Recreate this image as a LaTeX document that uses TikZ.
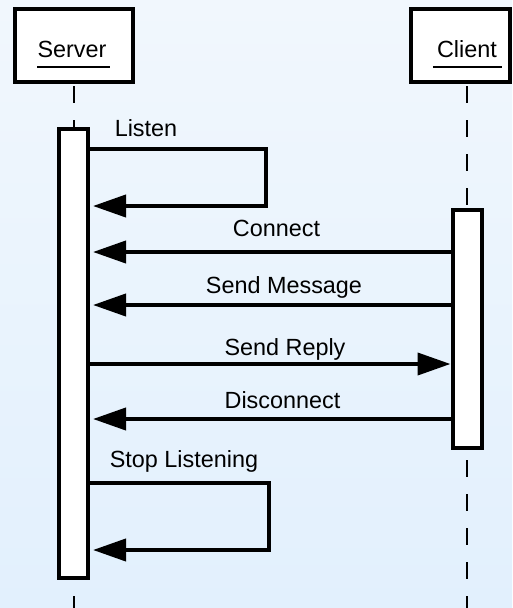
\documentclass[tikz,border=0pt]{standalone}
\usepackage{fontspec}
\setmainfont{Liberation Sans}
\usetikzlibrary{arrows.meta,calc}
\definecolor{bgtop}{RGB}{241,247,253}
\definecolor{bgbot}{RGB}{226,240,253}
\tikzset{
  headbox/.style={draw=black, line width=4pt, fill=white, minimum height=73pt, inner sep=0pt},
  actbox/.style={draw=black, line width=4pt, fill=white, minimum width=29pt, inner sep=0pt},
  lifeline/.style={draw=black, line width=2pt, dash pattern=on 17pt off 17pt},
  msg/.style={draw=black, line width=4pt, -{Triangle[length=33pt,width=22pt]}},
  lbl/.style={anchor=base, inner sep=0pt, font=\fontsize{23.4pt}{28pt}\selectfont},
  uline/.style={draw=black, line width=2pt}
}
\begin{document}
\begin{tikzpicture}[x=1pt, y=-1pt]
  \useasboundingbox (0,0) rectangle (512,608);
  \clip (0,0) rectangle (512,608);
  \shade[top color=bgtop, bottom color=bgbot] (0,0) rectangle (512,608);

  % participant heads
  \node[headbox, minimum width=118pt] (srv) at (73.5,45.5) {};
  \node[headbox, minimum width=99pt] (cli) at (460.5,45.5) {};
  \coordinate (srvend) at (73.5,612);
  \coordinate (cliend) at (467,612);

  % lifelines
  \draw[lifeline] ([yshift=-2pt]srv.south) -- (srvend);
  \draw[lifeline] ([yshift=-2pt]cli.south -| cliend) -- (cliend);
  \node[headbox, minimum width=118pt] at (srv) {};
  \node[headbox, minimum width=99pt] at (cli) {};

  % head labels
  \node[lbl] (srvlbl) at (72,57) {Server};
  \node[lbl] (clilbl) at (467,57) {Client};
  \draw[uline] ($(srvlbl.base west)+(0,9.5)$) -- ($(srvlbl.base east)+(3,9.5)$);
  \draw[uline] ($(clilbl.base west)+(-4,9.5)$) -- ($(clilbl.base east)+(5,9.5)$);

  % activation bars
  \node[actbox, minimum height=449pt] (sact) at (73.5,353.5) {};
  \node[actbox, minimum height=238pt] (cact) at (467,329) {};

  % Listen (self call)
  \coordinate (l1) at (266,149);
  \coordinate (l2) at (266,206);
  \draw[msg, line join=miter] (sact.east |- l1) -- (l1) -- (l2) -- ([xshift=3pt]sact.east |- l2);
  \node[lbl] (tlisten) at (146,136) {Listen};

  % Connect
  \draw[msg] (cact.west |- 0,252) -- ([xshift=3pt]sact.east |- 0,252);
  \node[lbl] (tconnect) at (276.5,236) {Connect};

  % Send Message
  \draw[msg] (cact.west |- 0,305) -- ([xshift=3pt]sact.east |- 0,305);
  \node[lbl] (tsend) at (284,293) {Send Message};

  % Send Reply
  \draw[msg] (sact.east |- 0,364) -- (cact.west |- 0,364);
  \node[lbl] (treply) at (285,355) {Send Reply};

  % Disconnect
  \draw[msg] (cact.west |- 0,419) -- ([xshift=3pt]sact.east |- 0,419);
  \node[lbl] (tdisc) at (282.5,408) {Disconnect};

  % Stop Listening (self call)
  \coordinate (s1) at (269,483);
  \coordinate (s2) at (269,550);
  \draw[msg, line join=miter] (sact.east |- s1) -- (s1) -- (s2) -- ([xshift=3pt]sact.east |- s2);
  \node[lbl] (tstop) at (184,467) {Stop Listening};
\end{tikzpicture}
\end{document}
